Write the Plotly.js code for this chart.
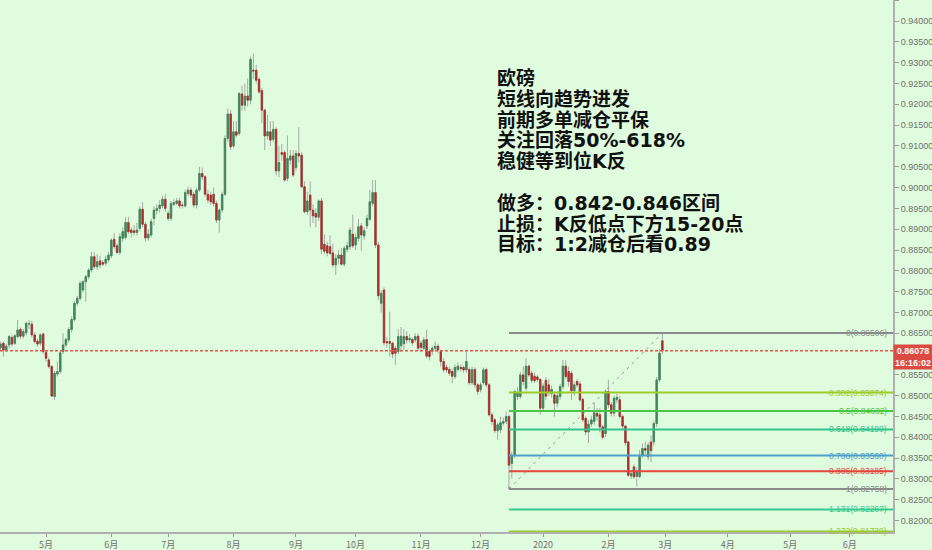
<!DOCTYPE html>
<html>
<head>
<meta charset="utf-8">
<script src="https://cdn.plot.ly/plotly-3.0.1.min.js"></script>
<style>
  html, body { margin: 0; padding: 0; background: #e0fcde; }
  #chart { width: 932px; height: 550px; }
</style>
</head>
<body>
<div id="chart"></div>
<script>
// EUR/GBP daily candles, Apr 2019 - Feb 2020
var open = [
  .8615,.8626,.8610,.8622,.8640,.8626,.8642,.8659,.8643,.8651,.8672,.8672,.8646,.8631,.8626,.8648,.8604,.8586,.8570,.8498,
  .8552,.8558,.8606,.8622,.8634,.8659,.8683,.8722,.8734,.8754,.8774,.8786,.8802,.8834,.8810,.8824,.8820,.8818,.8826,.8836,
  .8876,.8860,.8844,.8878,.8880,.8916,.8898,.8896,.8892,.8902,.8948,.8912,.8879,.8886,.8926,.8945,.8950,.8956,.8972,.8938,
  .8926,.8960,.8962,.8968,.8958,.8956,.8986,.8994,.8984,.8958,.8994,.9034,.9026,.8984,.8982,.8984,.8962,.8922,.8946,.8984,
  .9118,.9177,.9100,.9134,.9130,.9225,.9198,.9220,.9210,.9282,.9282,.9260,.9233,.9186,.9124,.9134,.9116,.9140,.9040,.9084,
  .9084,.9022,.9066,.9076,.9048,.9082,.9078,.9002,.8942,.8982,.8946,.8938,.8929,.8968,.8864,.8860,.8858,.8843,.8814,.8830,
  .8838,.8816,.8852,.8858,.8888,.8862,.8878,.8908,.8884,.8908,.8924,.8962,.8988,.8862,.8722,.8754,.8630,.8630,.8626,.8614,
  .8606,.8620,.8625,.8642,.8634,.8635,.8634,.8643,.8626,.8614,.8635,.8606,.8606,.8614,.8619,.8606,.8582,.8568,.8563,.8558,
  .8546,.8563,.8568,.8568,.8562,.8563,.8531,.8563,.8526,.8514,.8531,.8563,.8526,.8454,.8442,.8416,.8418,.8434,.8438,.8450,
  .8337,.8357,.8498,.8498,.8550,.8518,.8571,.8554,.8547,.8545,.8539,.8470,.8537,.8526,.8505,.8502,.8482,.8498,.8522,.8571,
  .8558,.8554,.8512,.8534,.8528,.8491,.8446,.8413,.8432,.8438,.8458,.8454,.8425,.8409,.8510,.8478,.8458,.8490,.8490,.8450,
  .8427,.8389,.8307,.8329,.8306,.8306,.8357,.8373,.8353,.8389,.8389,.8433,.8538,.8632
];
var high = [
  .8630,.8630,.8625,.8646,.8645,.8648,.8682,.8664,.8660,.8678,.8682,.8680,.8652,.8636,.8650,.8652,.8608,.8592,.8574,.8560,
  .8582,.8610,.8650,.8640,.8665,.8690,.8728,.8740,.8776,.8778,.8790,.8806,.8846,.8845,.8840,.8836,.8826,.8836,.8846,.8878,
  .8890,.8866,.8890,.8905,.8929,.8930,.8905,.8910,.8915,.8955,.8965,.8918,.8900,.8925,.8955,.8960,.8970,.8980,.8985,.8945,
  .8968,.8972,.8975,.8976,.8965,.8995,.9002,.9000,.8990,.9000,.9050,.9048,.9030,.8995,.8990,.9000,.8968,.8950,.8990,.9125,
  .9190,.9187,.9160,.9160,.9230,.9245,.9250,.9262,.9315,.9322,.9295,.9265,.9240,.9190,.9175,.9160,.9160,.9145,.9100,.9105,
  .9090,.9125,.9090,.9090,.9090,.9145,.9085,.9015,.8990,.9015,.8960,.8950,.8972,.8975,.8888,.8870,.8885,.8865,.8840,.8850,
  .8855,.8860,.8870,.8905,.8935,.8890,.8925,.8915,.8905,.8935,.8995,.9018,.9018,.8870,.8754,.8760,.8640,.8702,.8630,.8620,
  .8660,.8665,.8660,.8655,.8648,.8640,.8650,.8650,.8632,.8640,.8658,.8612,.8620,.8630,.8625,.8610,.8590,.8575,.8570,.8565,
  .8575,.8580,.8575,.8572,.8608,.8568,.8570,.8568,.8530,.8532,.8568,.8568,.8530,.8460,.8446,.8436,.8450,.8448,.8462,.8455,
  .8365,.8515,.8520,.8558,.8571,.8590,.8575,.8560,.8556,.8550,.8542,.8530,.8545,.8540,.8525,.8508,.8510,.8528,.8586,.8585,
  .8570,.8560,.8534,.8540,.8535,.8495,.8450,.8442,.8452,.8482,.8470,.8470,.8430,.8515,.8538,.8485,.8500,.8505,.8500,.8455,
  .8430,.8392,.8320,.8335,.8328,.8370,.8385,.8390,.8388,.8405,.8440,.8545,.8612,.86506
];
var low = [
  .8608,.8594,.8605,.8614,.8618,.8622,.8638,.8636,.8638,.8645,.8660,.8640,.8626,.8618,.8620,.8600,.8582,.8565,.8498,.8490,
  .8546,.8552,.8600,.8616,.8628,.8652,.8678,.8716,.8728,.8748,.8726,.8780,.8796,.8804,.8802,.8806,.8812,.8812,.8820,.8830,
  .8852,.8840,.8838,.8870,.8875,.8888,.8880,.8885,.8885,.8895,.8905,.8870,.8872,.8880,.8910,.8935,.8940,.8950,.8942,.8920,
  .8920,.8955,.8958,.8950,.8950,.8952,.8980,.8975,.8952,.8950,.8990,.9018,.8978,.8962,.8958,.8955,.8915,.8892,.8940,.8980,
  .9110,.9090,.9095,.9120,.9125,.9185,.9185,.9195,.9200,.9260,.9250,.9225,.9155,.9090,.9115,.9100,.9110,.9030,.9025,.9065,
  .9014,.9015,.9055,.9025,.9040,.9060,.8998,.8938,.8935,.8905,.8915,.8905,.8920,.8840,.8840,.8835,.8838,.8808,.8790,.8815,
  .8812,.8810,.8845,.8850,.8855,.8850,.8870,.8848,.8875,.8900,.8920,.8955,.8855,.8730,.8700,.8620,.8615,.8594,.8590,.8574,
  .8600,.8605,.8610,.8625,.8628,.8620,.8628,.8608,.8605,.8610,.8590,.8585,.8598,.8608,.8602,.8570,.8556,.8555,.8548,.8530,
  .8540,.8558,.8558,.8555,.8555,.8525,.8525,.8518,.8502,.8508,.8526,.8520,.8450,.8430,.8410,.8394,.8410,.8428,.8432,.82758,
  .8301,.8350,.8490,.8492,.8525,.8512,.8545,.8530,.8530,.8532,.8454,.8465,.8490,.8500,.8495,.8450,.8472,.8490,.8515,.8540,
  .8522,.8490,.8500,.8520,.8485,.8436,.8405,.8386,.8425,.8430,.8440,.8412,.8395,.8400,.8470,.8450,.8450,.8482,.8445,.8420,
  .8380,.8305,.8300,.8300,.8282,.8302,.8350,.8355,.8345,.8340,.8380,.8425,.8532,.8600
];
var close = [
  .8624,.8610,.8619,.8642,.8624,.8644,.8658,.8643,.8654,.8674,.8673,.8646,.8630,.8624,.8646,.8606,.8590,.8570,.8499,.8554,
  .8558,.8603,.8622,.8635,.8659,.8683,.8722,.8734,.8770,.8774,.8786,.8802,.8834,.8810,.8822,.8814,.8816,.8828,.8838,.8874,
  .8858,.8844,.8882,.8894,.8916,.8894,.8892,.8892,.8898,.8948,.8912,.8879,.8888,.8918,.8946,.8950,.8958,.8972,.8950,.8926,
  .8962,.8964,.8968,.8956,.8957,.8988,.8994,.8982,.8958,.8994,.9034,.9026,.8984,.8970,.8966,.8962,.8922,.8946,.8984,.9118,
  .9177,.9098,.9134,.9126,.9226,.9198,.9220,.9210,.9308,.9280,.9258,.9230,.9186,.9124,.9134,.9114,.9140,.9040,.9060,.9080,
  .9018,.9070,.9076,.9030,.9082,.9076,.9002,.8942,.8968,.8946,.8932,.8929,.8968,.8852,.8847,.8843,.8842,.8814,.8830,.8838,
  .8816,.8854,.8860,.8898,.8860,.8880,.8906,.8886,.8896,.8926,.8966,.8988,.8862,.8740,.8746,.8627,.8627,.8626,.8600,.8602,
  .8642,.8643,.8642,.8634,.8638,.8627,.8642,.8614,.8616,.8634,.8595,.8594,.8614,.8619,.8610,.8582,.8562,.8562,.8554,.8547,
  .8568,.8571,.8565,.8562,.8582,.8531,.8563,.8526,.8510,.8526,.8562,.8526,.8454,.8438,.8416,.8430,.8435,.8438,.8450,.8333,
  .8357,.8510,.8506,.8550,.8534,.8571,.8550,.8537,.8536,.8539,.8470,.8523,.8499,.8510,.8515,.8482,.8500,.8522,.8571,.8546,
  .8534,.8512,.8526,.8526,.8490,.8442,.8413,.8432,.8442,.8459,.8451,.8425,.8400,.8510,.8478,.8458,.8494,.8496,.8450,.8427,
  .8387,.8309,.8313,.8305,.8318,.8357,.8373,.8369,.8381,.8368,.8433,.8538,.8602,.86078
];

var firstDay = '2019-04-09';
var monthTicks = ['2019-05-01','2019-06-03','2019-07-01','2019-08-01','2019-09-02','2019-10-01','2019-11-01',
                  '2019-12-02','2020-01-01','2020-02-03','2020-03-02','2020-04-01','2020-05-01','2020-06-01'];
var monthLabels = ['5月','6月','7月','8月','9月','10月','11月','12月','2020','2月','3月','4月','5月','6月'];
var priceTicks = [0.820,0.825,0.830,0.835,0.840,0.845,0.850,0.855,0.860,0.865,0.870,0.875,0.880,0.885,0.890,
                  0.895,0.900,0.905,0.910,0.915,0.920,0.925,0.930,0.935,0.940,0.945];

var fibLevels = [0, 0.382, 0.5, 0.618, 0.786, 0.886, 1, 1.131, 1.272];
var fibColors = ['#8a8a8a','#9ccc2a','#4cc444','#35c28c','#4f9fcb','#e4463c','#8a8a8a','#35c98e','#9ccc2a'];

var noteLines = ['欧磅', '短线向趋势进发', '前期多单减仓平保', '关注回落50%-618%', '稳健等到位K反', '',
                 '做多：0.842-0.846区间', '止损：K反低点下方15-20点', '目标：1:2减仓后看0.89'];
var countdown = '16:16:02';

// weekday calendar for the candles
function tradingDays(start, n) {
  var out = [];
  var d = new Date(start + 'T00:00:00Z');
  while (out.length < n) {
    var wd = d.getUTCDay();
    if (wd !== 0 && wd !== 6) out.push(d.toISOString().slice(0, 10));
    d.setUTCDate(d.getUTCDate() + 1);
  }
  return out;
}
var dates = tradingDays(firstDay, close.length);

var bodyHigh = open.map(function (o, i) { return Math.max(o, close[i]); });
var bodyLow = open.map(function (o, i) { return Math.min(o, close[i]); });

var wickColor = '#a3aaa3';
var wicks = {
  type: 'candlestick', x: dates, open: open, high: high, low: low, close: close,
  increasing: { line: { color: wickColor, width: 1 }, fillcolor: wickColor },
  decreasing: { line: { color: wickColor, width: 1 }, fillcolor: wickColor },
  whiskerwidth: 0, hoverinfo: 'skip', showlegend: false
};
var bodies = {
  type: 'candlestick', x: dates, open: open, high: bodyHigh, low: bodyLow, close: close,
  increasing: { line: { color: '#3d8659', width: 0.8 }, fillcolor: '#3d8659' },
  decreasing: { line: { color: '#a8302c', width: 0.8 }, fillcolor: '#a8302c' },
  whiskerwidth: 0, hoverinfo: 'skip', showlegend: false
};

// fib anchors: the Dec low and the last high
var lowIdx = low.indexOf(Math.min.apply(null, low));
var hiIdx = high.length - 1;
var fibHi = high[hiIdx], fibLo = low[lowIdx];
var xEnd = '2020-06-22 05:00';
var last = close[close.length - 1];

var shapes = [{
  type: 'line', xref: 'paper', x0: 0, x1: 1, yref: 'y', y0: last, y1: last,
  line: { color: '#e2574d', width: 1.5, dash: '3px,2px' }
}, {
  type: 'line', xref: 'x', yref: 'y', x0: dates[lowIdx], y0: fibLo, x1: dates[hiIdx], y1: fibHi,
  line: { color: '#9a9a9a', width: 1, dash: '3px,4px' }
}];
var annotations = [];
var smallFont = 'Liberation Sans Narrow, Liberation Sans';
fibLevels.forEach(function (lv, k) {
  var p = fibHi - lv * (fibHi - fibLo);
  shapes.push({
    type: 'line', xref: 'x', yref: 'y', x0: dates[lowIdx], x1: xEnd, y0: p, y1: p,
    line: { color: fibColors[k], width: 2 }
  });
  annotations.push({
    xref: 'paper', x: 1, xanchor: 'right', xshift: -4, yref: 'y', y: p, yanchor: 'middle',
    text: lv + '(' + p.toFixed(5) + ')', showarrow: false,
    font: { family: smallFont, size: 8.5, color: fibColors[k] }
  });
});
// vertical connector at the fib start
shapes.push({
  type: 'line', xref: 'x', yref: 'y', x0: dates[lowIdx], x1: dates[lowIdx], y0: fibLo, y1: fibLo + 0.0006,
  line: { color: '#8a8a8a', width: 1 }
});

// price tag on the axis (covers the tick label under it)
annotations.push({
  xref: 'paper', x: 1, xanchor: 'left', xshift: 0, yref: 'y', y: last, yanchor: 'top', yshift: 7,
  text: '<b>' + last.toFixed(5) + '<br>' + countdown + '</b>', showarrow: false,
  bgcolor: '#db4a40', borderpad: 1, align: 'center',
  font: { family: smallFont, size: 9, color: '#ffffff' }
});

// note text, one annotation per line
var lineTop = 78, lineStep = 20.8, plotH = 532;
noteLines.forEach(function (t, k) {
  if (!t) return;
  annotations.push({
    xref: 'paper', x: 495 / 893, xanchor: 'left', yref: 'paper', y: 1 - (lineTop + k * lineStep) / plotH,
    yanchor: 'middle', text: '<b>' + t + '</b>', showarrow: false,
    font: { family: 'DejaVu Sans, Noto Sans CJK SC', size: 19, color: '#111111' }
  });
});

var layout = {
  width: 932, height: 550,
  margin: { l: 0, r: 39, t: 0, b: 18 },
  paper_bgcolor: '#e0fcde', plot_bgcolor: '#e0fcde',
  showlegend: false,
  xaxis: {
    type: 'date', range: ['2019-04-08 19:00', xEnd],
    rangebreaks: [{ bounds: ['sat', 'mon'] }],
    rangeslider: { visible: false },
    tickmode: 'array', tickvals: monthTicks, ticktext: monthLabels,
    ticks: 'outside', ticklen: 3, tickcolor: '#999999',
    showgrid: false, zeroline: false,
    showline: true, linecolor: '#b0b0b0', linewidth: 2,
    tickfont: { family: 'Noto Sans CJK SC', size: 9, color: '#707070' }
  },
  yaxis: {
    side: 'right', range: [0.81725, 0.94507],
    tickmode: 'array',
    tickvals: priceTicks.filter(function (v) { return Math.abs(v - last) > 0.002; }),
    tickformat: '.5f',
    ticks: 'outside', ticklen: 4, tickcolor: '#999999',
    showgrid: false, zeroline: false,
    showline: true, linecolor: '#b0b0b0', linewidth: 2,
    tickfont: { family: smallFont, size: 9, color: '#707070' }
  },
  shapes: shapes,
  annotations: annotations
};

Plotly.newPlot('chart', [wicks, bodies], layout, { staticPlot: true, displayModeBar: false });
</script>
</body>
</html>
